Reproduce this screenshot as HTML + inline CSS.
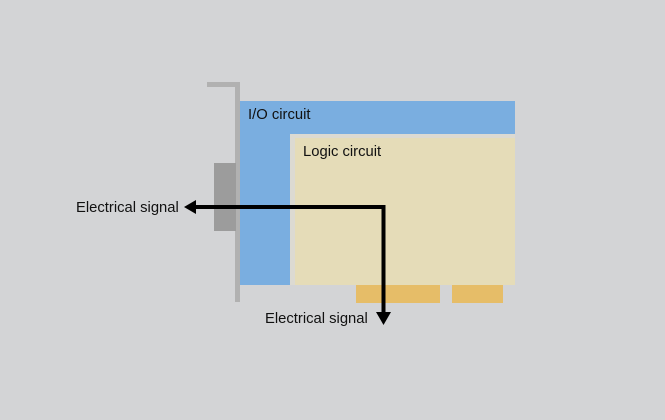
<!DOCTYPE html>
<html><head><style>
body{margin:0;width:665px;height:420px;background:#d3d4d6;position:relative;overflow:hidden;font-family:"Liberation Sans",sans-serif;}
div{position:absolute;}
.t{font-size:14.8px;color:#111;white-space:nowrap;line-height:16px;}
</style></head><body>
<div style="left:207px;top:82px;width:33px;height:5px;background:#b1b1b1"></div>
<div style="left:235px;top:82px;width:5px;height:220px;background:#b1b1b1"></div>
<div style="left:214px;top:163px;width:22px;height:68px;background:#9c9c9c"></div>
<div style="left:240px;top:101px;width:275px;height:33px;background:#7aaee0"></div>
<div style="left:240px;top:134px;width:50px;height:151px;background:#7aaee0"></div>
<div style="left:290px;top:134px;width:225px;height:151px;background:#dcdad2"></div>
<div style="left:295px;top:138px;width:220px;height:147px;background:#e5dcb8"></div>
<div style="left:356px;top:285px;width:84px;height:18px;background:#e6bd68"></div>
<div style="left:452px;top:285px;width:51px;height:18px;background:#e6bd68"></div>
<div class="t" style="left:248px;top:107px">I/O circuit</div>
<div class="t" style="left:303px;top:144px">Logic circuit</div>
<div class="t" style="left:76px;top:200px">Electrical signal</div>
<div class="t" style="left:265px;top:311px">Electrical signal</div>
<svg width="665" height="420" style="position:absolute;left:0;top:0">
<polyline points="194,207 383.5,207 383.5,314" fill="none" stroke="#000" stroke-width="4"/>
<polygon points="184,207 196,200 196,214" fill="#000"/>
<polygon points="376,312 391,312 383.5,325" fill="#000"/>
</svg>
</body></html>
